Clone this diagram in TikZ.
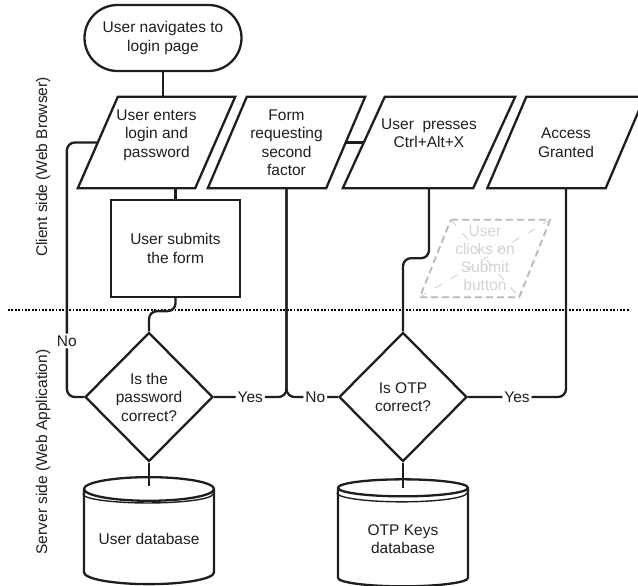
\documentclass[tikz,border=0pt]{standalone}
\usepackage{fontspec}
\setmainfont{Liberation Sans}
\usetikzlibrary{positioning,shapes.geometric}
\definecolor{InkDark}{RGB}{30,30,30}
\definecolor{GhostLine}{RGB}{185,185,185}
\definecolor{GhostText}{RGB}{210,210,210}

\begin{document}
\begin{tikzpicture}[
    x=1pt, y=-1pt,
    font=\fontsize{15.5}{18.5}\selectfont,
    every node/.style={text=InkDark},
    line/.style={line width=2.3pt, draw=InkDark, rounded corners=8pt},
    outline/.style={line width=2.3pt, draw=InkDark, line join=miter},
    terminal/.style={
        draw=InkDark, line width=2.3pt, rounded corners=33pt,
        minimum width=157pt, minimum height=66pt, align=center
    },
    io/.style={
        minimum width=118pt, minimum height=91pt, inner sep=2pt, align=center
    },
    process/.style={
        draw=InkDark, line width=2.3pt,
        minimum width=129pt, minimum height=97pt, align=center
    },
    decision/.style={
        diamond, draw=InkDark, line width=2.3pt,
        minimum width=128pt, minimum height=129pt, inner sep=0pt, align=center
    },
    store/.style={
        cylinder, shape border rotate=90, aspect=0.22, draw=InkDark, line width=2.3pt,
        minimum width=130pt, minimum height=107pt, align=center
    },
    ghost/.style={line width=1.8pt, draw=GhostLine, dash pattern=on 7pt off 4pt},
    ghostcross/.style={line width=1pt, draw=GhostText, dash pattern=on 8pt off 10pt},
    tag/.style={fill=white, inner sep=2pt},
    rim/.style={line width=1.4pt, draw=InkDark},
    divider/.style={line width=1.8pt, dash pattern=on 1.8pt off 1.6pt}
]
\useasboundingbox (0,0) rectangle (638,586);

% lanes
\node[rotate=90] (client) at (43,167) {Client side (Web Browser)};
\node[rotate=90] (server) at (43,452) {Server side (Web Application)};
\coordinate (lanewest) at (8,310);
\coordinate (laneeast) at (630,310);
\draw[divider] (lanewest) -- (laneeast);

% client side
\node[terminal] (start) at (163,38) {User navigates to\\login page};
\node[io, minimum width=117pt] (login) at (156.5,142.5) {User enters\\login and\\password\\\mbox{}};
\node[io] (factor) at (286.5,142.5) {Form\\requesting\\second\\factor};
\node[io, minimum width=130pt] (keys) at (429,142.5) {User\ \ presses\\Ctrl+Alt+X\\\mbox{}};
\node[io] (granted) at (566,142.5) {Access\\Granted};
\node[process] (submit) at (175.5,248.5) {User submits\\the form};
\node[io, minimum width=99pt, minimum height=77pt, inner sep=1pt, text=GhostText,
    font=\fontsize{15.5}{18}\selectfont] (click) at (485,258.5) {User\\clicks on\\Submit\\button};

% slanted input/output boxes
\draw[outline] ([xshift=20pt]login.north west) -- ([xshift=20pt]login.north east)
    -- ([xshift=-20pt]login.south east) -- ([xshift=-20pt]login.south west) -- cycle;
\draw[outline] ([xshift=19.5pt]factor.north west) -- ([xshift=19.5pt]factor.north east)
    -- ([xshift=-19.5pt]factor.south east) -- ([xshift=-19.5pt]factor.south west) -- cycle;
\draw[outline] ([xshift=21pt]keys.north west) -- ([xshift=21pt]keys.north east)
    -- ([xshift=-21pt]keys.south east) -- ([xshift=-21pt]keys.south west) -- cycle;
\draw[outline] ([xshift=19.5pt]granted.north west) -- ([xshift=19.5pt]granted.north east)
    -- ([xshift=-19.5pt]granted.south east) -- ([xshift=-19.5pt]granted.south west) -- cycle;
\draw[ghost] ([xshift=15.5pt]click.north west) -- ([xshift=15.5pt]click.north east)
    -- ([xshift=-15.5pt]click.south east) -- ([xshift=-15.5pt]click.south west) -- cycle;
\draw[ghostcross] ([xshift=15.5pt]click.north west) -- ([xshift=-15.5pt]click.south east);
\draw[ghostcross] ([xshift=15.5pt]click.north east) -- ([xshift=-15.5pt]click.south west);

% server side
\node[decision] (pwcheck) at (149,397) {Is the\\password\\correct?};
\node[decision] (otpcheck) at (403,397) {Is OTP\\correct?};
\node[store] (userdb) at (149,539) {User database};
\node[store] (keydb) at (403,539) {OTP Keys\\database};
\draw[rim] ([yshift=-5pt]userdb.before top) arc[start angle=180, end angle=360, x radius=65pt, y radius=9pt];
\draw[rim] ([yshift=-5pt]keydb.before top) arc[start angle=180, end angle=360, x radius=65pt, y radius=9pt];

% connectors
\draw[line] (start.south) -- (start.south |- login.north);
\draw[line] (submit.north |- login.south) -- (submit.north);
\draw[line] (submit.south) -- ++(0,13) -| (pwcheck.north);
\draw[line] (pwcheck.west) -- ++(-17,0) |- node[tag, pos=0.11] {No} (login.west);
\draw[line] (pwcheck.east) -| node[tag, pos=0.25] {Yes} (factor.south);
\draw[line] (otpcheck.west) -| node[tag, pos=0.22] {No} (factor.south);
\draw[line] (factor.east) -- (keys.west);
\draw[line] (keys.south) -- ++(0,70) -| (otpcheck.north);
\draw[line] (otpcheck.east) -| node[tag, pos=0.25] {Yes} (granted.south);
\draw[line] (pwcheck.south) -- ([yshift=-10pt]userdb.top);
\draw[line] (otpcheck.south) -- ([yshift=-10pt]keydb.top);

\end{tikzpicture}
\end{document}
